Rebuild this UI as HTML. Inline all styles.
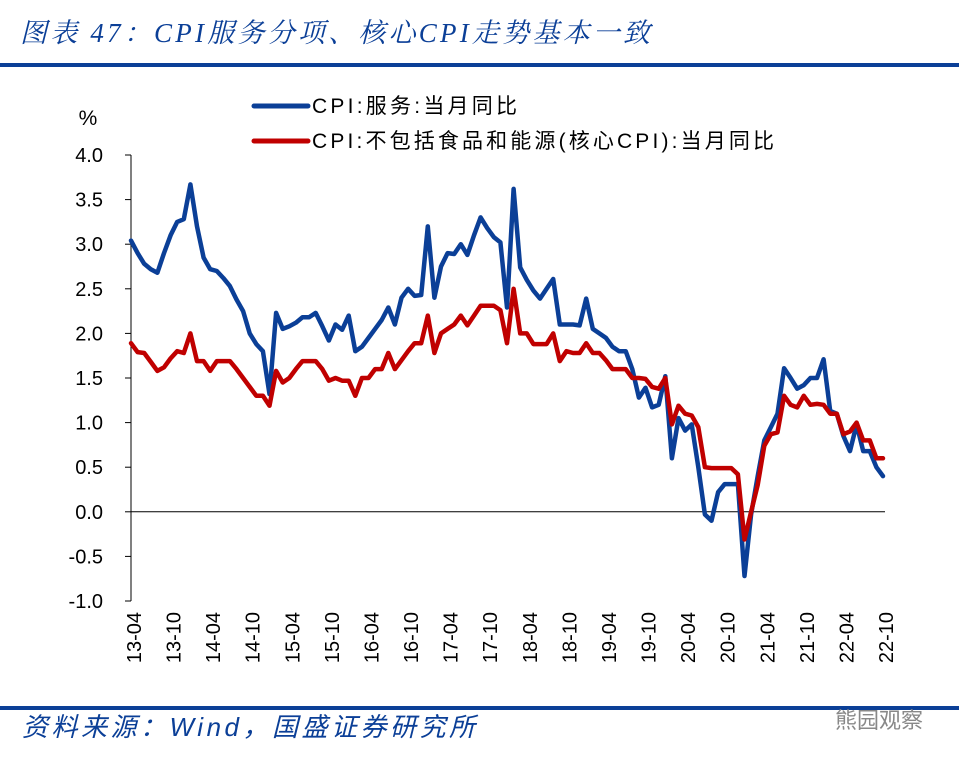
<!DOCTYPE html>
<html><head><meta charset="utf-8">
<style>
body{margin:0;background:#fff;width:959px;height:759px;overflow:hidden;font-family:"Liberation Sans","Noto Sans CJK SC",sans-serif;}
</style></head><body>
<svg id="chart" width="959" height="759" xmlns="http://www.w3.org/2000/svg">
<text x="20" y="42" font-size="27" font-style="italic" fill="#0b3f97" textLength="630" lengthAdjust="spacing" font-family="Liberation Serif,Noto Serif CJK SC,serif">图表 47：CPI服务分项、核心CPI走势基本一致</text>
<rect x="0" y="63" width="959" height="4" fill="#0b3f97"/>
<rect x="0" y="706" width="959" height="4" fill="#0b3f97"/>
<text x="22" y="736" font-size="26" font-style="italic" fill="#0b3f97" textLength="453" lengthAdjust="spacing" font-family="Liberation Sans,Noto Sans CJK SC,sans-serif">资料来源：Wind，国盛证券研究所</text>
<text x="835" y="728" font-size="22" fill="#888" font-family="Liberation Sans,Noto Sans CJK SC,sans-serif">熊园观察</text>
<text x="88" y="125" font-size="21" text-anchor="middle" fill="#000">%</text>
<line x1="131" y1="155" x2="131" y2="601" stroke="#000" stroke-width="1"/>
<g id="yaxis"></g><g id="xaxis"></g><g id="series"></g>
<g>
<line x1="254" y1="106" x2="308" y2="106" stroke="#0b3f97" stroke-width="5" stroke-linecap="round"/>
<text x="312" y="113" font-size="21" fill="#000" textLength="205" lengthAdjust="spacing">CPI:服务:当月同比</text>
<line x1="254" y1="141" x2="308" y2="141" stroke="#c00000" stroke-width="5" stroke-linecap="round"/>
<text x="312" y="148" font-size="21" fill="#000" textLength="462" lengthAdjust="spacing">CPI:不包括食品和能源(核心CPI):当月同比</text>
</g>
</svg>
<script>
const xLabels=["13-04","13-10","14-04","14-10","15-04","15-10","16-04","16-10","17-04","17-10","18-04","18-10","19-04","19-10","20-04","20-10","21-04","21-10","22-04","22-10"];
const yTicks=[4.0,3.5,3.0,2.5,2.0,1.5,1.0,0.5,0.0,-0.5,-1.0];
const servicesCPI=[3.04,2.9,2.78,2.72,2.68,2.9,3.1,3.25,3.28,3.67,3.2,2.85,2.72,2.7,2.62,2.53,2.38,2.25,2.0,1.88,1.8,1.32,2.23,2.05,2.08,2.12,2.18,2.18,2.23,2.08,1.92,2.1,2.04,2.2,1.8,1.85,1.95,2.05,2.15,2.29,2.1,2.4,2.5,2.42,2.43,3.2,2.4,2.75,2.9,2.89,3.0,2.88,3.1,3.3,3.18,3.08,3.02,2.29,3.62,2.74,2.6,2.48,2.39,2.5,2.61,2.1,2.1,2.1,2.09,2.39,2.05,2.0,1.95,1.85,1.8,1.8,1.6,1.28,1.39,1.17,1.2,1.52,0.6,1.05,0.91,0.98,0.5,-0.03,-0.1,0.22,0.31,0.31,0.31,-0.72,-0.03,0.4,0.8,0.95,1.1,1.61,1.5,1.38,1.42,1.5,1.5,1.71,1.13,1.1,0.85,0.68,0.98,0.68,0.68,0.5,0.4];
const coreCPI=[1.89,1.79,1.78,1.68,1.58,1.62,1.72,1.8,1.78,2.0,1.69,1.69,1.58,1.69,1.69,1.69,1.6,1.5,1.4,1.3,1.3,1.19,1.58,1.45,1.5,1.6,1.69,1.69,1.69,1.6,1.47,1.5,1.47,1.47,1.3,1.5,1.5,1.6,1.6,1.78,1.6,1.7,1.8,1.89,1.89,2.2,1.78,2.0,2.05,2.1,2.2,2.09,2.2,2.31,2.31,2.31,2.26,1.89,2.5,2.0,2.0,1.88,1.88,1.88,2.0,1.69,1.8,1.78,1.78,1.89,1.78,1.78,1.7,1.6,1.6,1.6,1.5,1.5,1.49,1.4,1.38,1.5,0.98,1.19,1.1,1.08,0.95,0.5,0.49,0.49,0.49,0.49,0.42,-0.31,0.0,0.3,0.74,0.87,0.89,1.3,1.2,1.17,1.3,1.2,1.21,1.2,1.1,1.1,0.87,0.9,1.0,0.8,0.8,0.6,0.6];

const NS="http://www.w3.org/2000/svg";
const X0=131,X1=883,Y4=155,Ym1=601;
const N=servicesCPI.length;
function xScale(i){return X0+i*(X1-X0)/(N-1);}
function yScale(v){return Y4+(4.0-v)*(Ym1-Y4)/5.0;}
function mk(tag,attrs,parent){const e=document.createElementNS(NS,tag);for(const k in attrs)e.setAttribute(k,attrs[k]);parent.appendChild(e);return e;}

const ya=document.getElementById('yaxis');
yTicks.forEach(v=>{
  const y=yScale(v);
  const t=mk('line',{x1:125,x2:131,y1:y,y2:y,stroke:'#000','stroke-width':1},ya);
  
  
  const l=mk('text',{x:103,y:y+7,'font-size':20,'text-anchor':'end',fill:'#000'},ya);
  
  
  l.textContent=v.toFixed(1);
});
const z=mk('line',{x1:X0,x2:885,y1:yScale(0),y2:yScale(0),stroke:'#000','stroke-width':1},ya);



const xa=document.getElementById('xaxis');
xLabels.forEach((s,k)=>{
  const x=xScale(k*6)+3;
  const t=mk('text',{transform:`translate(${x+7},612) rotate(-90)`,'font-size':20,'text-anchor':'end',fill:'#000'},xa);
  
  
  t.textContent=s;
});

const sg=document.getElementById('series');
function draw(arr,color,name){
  const pts=arr.map((v,i)=>xScale(i).toFixed(1)+','+yScale(v).toFixed(1)).join(' ');
  const p=mk('polyline',{points:pts,fill:'none',stroke:color,'stroke-width':4.5,'stroke-linejoin':'round','stroke-linecap':'round'},sg);
  
  
}
draw(servicesCPI,'#0b3f97','services-cpi-line');
draw(coreCPI,'#c00000','core-cpi-line');
</script>
</body></html>
